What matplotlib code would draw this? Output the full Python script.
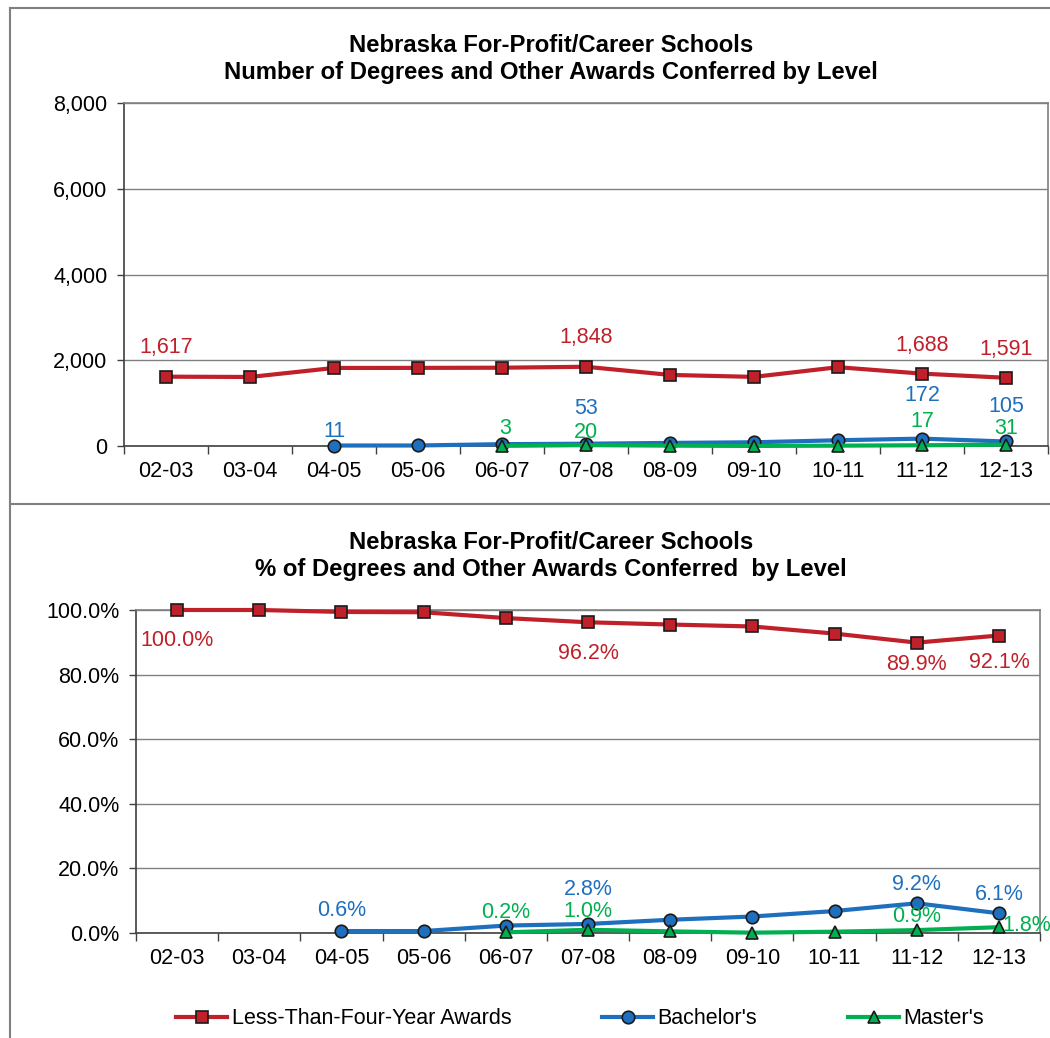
import matplotlib
matplotlib.use("Agg")
import matplotlib.pyplot as plt
from matplotlib.lines import Line2D
import numpy as np

plt.rcParams['font.family'] = ['Liberation Sans', 'DejaVu Sans']

years = ["02-03", "03-04", "04-05", "05-06", "06-07", "07-08", "08-09", "09-10", "10-11", "11-12", "12-13"]

# counts (None = no data)
less4_n = [1617, 1610, 1820, 1822, 1826, 1848, 1658, 1612, 1838, 1688, 1591]
bach_n = [None, None, 11, 12, 43, 53, 72, 87, 134, 172, 105]
mast_n = [None, None, None, None, 3, 20, 8, 1, 8, 17, 31]

# percentages
less4_p = [100.0, 100.0, 99.4, 99.3, 97.5, 96.2, 95.5, 94.9, 92.7, 89.9, 92.1]
bach_p = [None, None, 0.6, 0.6, 2.3, 2.8, 4.1, 5.1, 6.8, 9.2, 6.1]
mast_p = [None, None, None, None, 0.2, 1.0, 0.5, 0.1, 0.4, 0.9, 1.8]

series_names = ["Less-Than-Four-Year Awards", "Bachelor's", "Master's"]
title_top = "Nebraska For-Profit/Career Schools\nNumber of Degrees and Other Awards Conferred by Level"
title_bot = "Nebraska For-Profit/Career Schools\n% of Degrees and Other Awards Conferred  by Level"
colors = ["#C0202A", "#1F6FBF", "#00B050"]
markers = ["s", "o", "^"]

# labelled points: (index, dx px, dy px)
lab_top = [
    [(0, 0, 29), (5, 0, 29), (9, 0, 28), (10, 0, 28)],
    [(2, 0, 14), (5, 0, 35), (9, 0, 43), (10, 0, 35)],
    [(4, 3, 17), (5, 0, 13), (9, 0, 24), (10, 0, 16)],
]
lab_bot = [
    [(0, 0, -31), (5, 0, -31), (9, 0, -22), (10, 0, -27)],
    [(2, 0, 21), (5, 0, 34), (9, 0, 19), (10, 0, 19)],
    [(4, 0, 20), (5, 0, 18), (9, 0, 14), (10, 28, 2)],
]

FS = 15.5
fig = plt.figure(figsize=(10.5, 10.38), dpi=100)
W, H = 1050, 1038

def to_arr(v):
    return np.array([np.nan if x is None else x for x in v], dtype=float)

def setup(ax, ymax, step, fmt):
    ax.set_xlim(-0.5, len(years) - 0.5)
    ax.set_ylim(0, ymax)
    ax.set_yticks(np.arange(0, ymax + step / 2, step))
    ax.set_yticklabels([fmt(v) for v in np.arange(0, ymax + step / 2, step)])
    ax.yaxis.grid(True, color="#808080", linewidth=1.0)
    ax.set_axisbelow(True)
    ax.set_xticks(np.arange(-0.5, len(years), 1.0))
    ax.set_xticklabels([])
    ax.set_xticks(np.arange(len(years)), minor=True)
    ax.set_xticklabels(years, minor=True)
    ax.tick_params(axis="x", which="major", length=6, width=1, color="#404040")
    ax.tick_params(axis="x", which="minor", length=0, pad=11, labelsize=FS)
    ax.tick_params(axis="y", length=5, width=1, pad=7, labelsize=FS, color="#404040")
    for s in ["top", "right"]:
        ax.spines[s].set_color("#808080")
        ax.spines[s].set_linewidth(1.2)
    for s in ["left", "bottom"]:
        ax.spines[s].set_color("#404040")
        ax.spines[s].set_linewidth(1.2)

def draw(ax, data, labs, fmt):
    x = np.arange(len(years))
    for vals, c, m, lb in zip(data, colors, markers, labs):
        y = to_arr(vals)
        ax.plot(x, y, color=c, linewidth=3, marker=m, markersize=9 if m != "^" else 8,
                markerfacecolor=c, markeredgecolor="#1a1a1a", markeredgewidth=1.2, clip_on=False, zorder=3)
        for i, dx, dy in lb:
            ax.annotate(fmt(y[i]), (x[i], y[i]), xytext=(dx, dy), textcoords="offset pixels",
                        ha="center", va="center", color=c, fontsize=FS, annotation_clip=False, zorder=4)

ax1 = fig.add_axes([124 / W, 1 - 446 / H, 924 / W, 343 / H])
setup(ax1, 8000, 2000, lambda v: f"{int(v):,}")
draw(ax1, [less4_n, bach_n, mast_n], lab_top, lambda v: f"{int(round(v)):,}")
fig.text(551 / W, 1 - 59 / H, title_top, ha="center", va="center", fontsize=17.2,
         fontweight="bold", linespacing=1.2)

ax2 = fig.add_axes([136 / W, 1 - 933 / H, 904 / W, 323 / H])
setup(ax2, 100, 20, lambda v: f"{v:.1f}%")
draw(ax2, [less4_p, bach_p, mast_p], lab_bot, lambda v: f"{v:.1f}%")
fig.text(551 / W, 1 - 556 / H, title_bot, ha="center", va="center", fontsize=17.2,
         fontweight="bold", linespacing=1.2)

# panel borders
border = dict(color="#808080", linewidth=1.5, transform=fig.transFigure)
fig.add_artist(Line2D([10 / W, 1], [1 - 8 / H, 1 - 8 / H], **border))
fig.add_artist(Line2D([10 / W, 10 / W], [1 - 8 / H, 0], **border))
fig.add_artist(Line2D([10 / W, 1], [1 - 504 / H, 1 - 504 / H], **border))

handles = [Line2D([0], [0], color=c, linewidth=3, marker=m, markersize=9 if m != "^" else 8,
                  markerfacecolor=c, markeredgecolor="#1a1a1a", markeredgewidth=1.2)
           for c, m in zip(colors, markers)]
fig.legend(handles, series_names, loc="center", bbox_to_anchor=(580 / W, 1 - 1019 / H), ncol=3,
           frameon=False, fontsize=FS, handlelength=2.4, handletextpad=0.2, columnspacing=4.2)

fig.savefig("out.png", dpi=100)
